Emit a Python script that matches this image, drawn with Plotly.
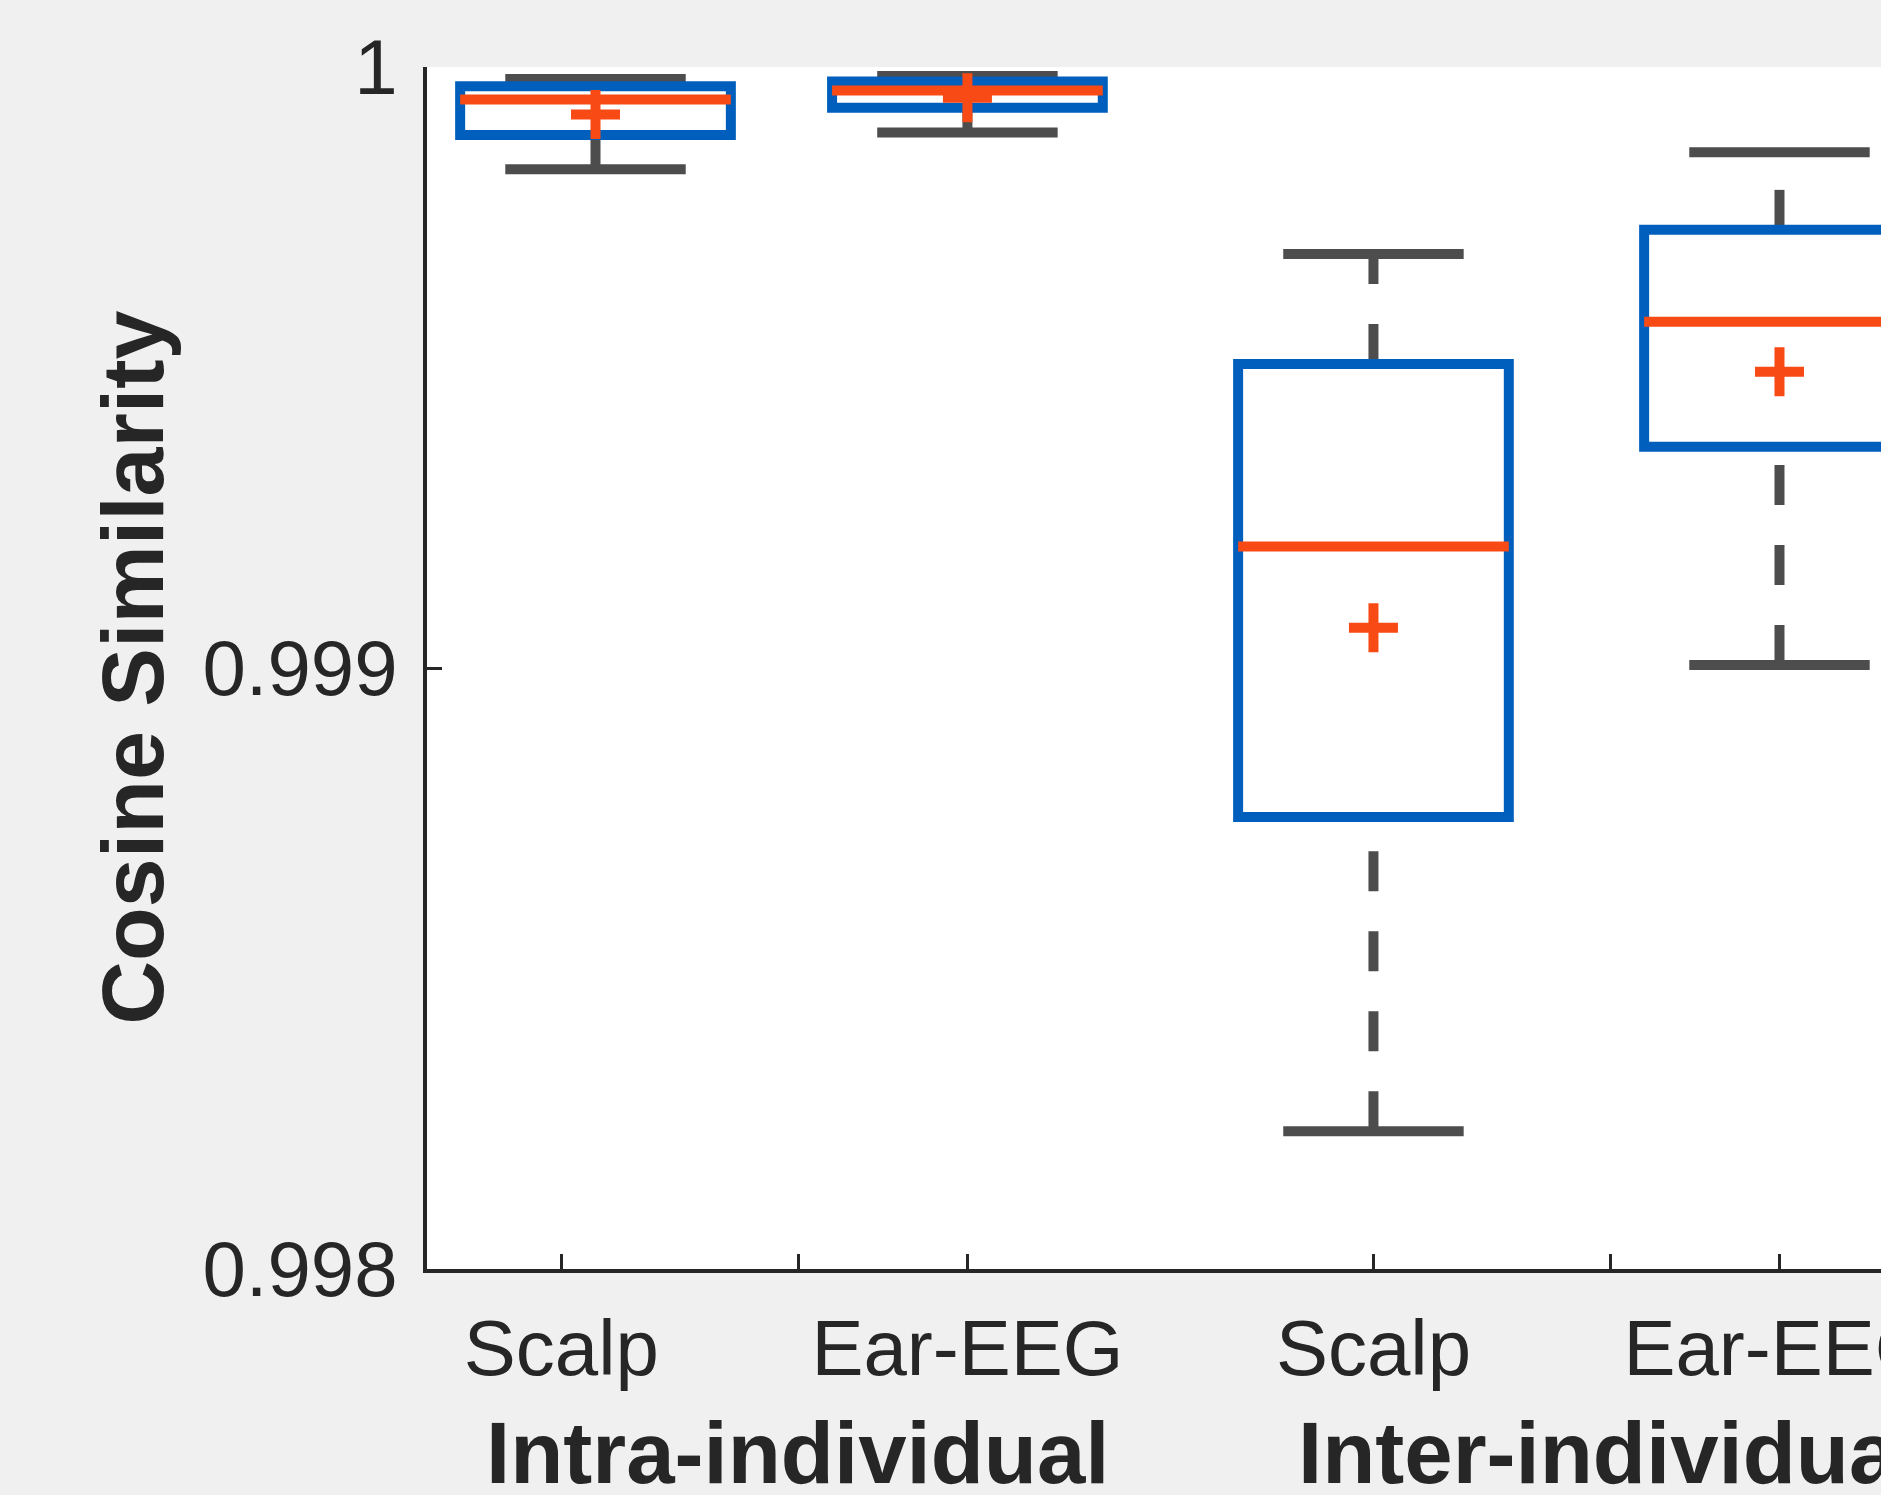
import plotly.graph_objects as go

# ---------------- data ----------------
categories = ["Scalp", "Ear-EEG", "Scalp", "Ear-EEG"]
group_labels = ["Intra-individual", "Inter-individual"]
positions = [1.084, 2, 3, 4]
upper_fence = [0.999980, 0.999985, 0.999689, 0.999858]
q3 = [0.999968, 0.999976, 0.999506, 0.999729]
median = [0.999946, 0.999961, 0.999202, 0.999576]
mean = [0.999921, 0.999949, 0.999067, 0.999493]
q1 = [0.999887, 0.999932, 0.998752, 0.999368]
lower_fence = [0.999830, 0.999891, 0.998229, 0.999005]

x_ticks = [1, 1.583, 2, 3, 3.583, 4]
x_tick_text = ["Scalp", "", "Ear-EEG", "Scalp", "", "Ear-EEG"]
group_tick_pos = [1.583, 3.583]
y_ticks = [0.998, 0.999, 1.0]
y_tick_text = ["0.998", "0.999", "1"]

# ---------------- styles ----------------
BLUE = "#005EBD"
ORANGE = "#F84A14"
GRAY = "#4D4D4D"
TXT = "#262626"
LW = 10
BOX_W = 0.6667
CAP_W = 0.4444
FONT = "Liberation Sans, Arial, Helvetica, sans-serif"

fig = go.Figure()


def line(xs, ys, color, dash=None):
    fig.add_trace(go.Scatter(
        x=xs, y=ys, mode="lines",
        line=dict(color=color, width=LW, dash=dash),
        hoverinfo="skip", showlegend=False,
    ))


for i, p in enumerate(positions):
    l, r = p - BOX_W / 2, p + BOX_W / 2
    cl, cr = p - CAP_W / 2, p + CAP_W / 2
    # whiskers (dashed), drawn upward as in the reference
    line([p, p], [lower_fence[i], q1[i]], GRAY, "40px,40px")
    line([p, p], [q3[i], upper_fence[i]], GRAY, "40px,40px")
    # caps
    line([cl, cr], [upper_fence[i], upper_fence[i]], GRAY)
    line([cl, cr], [lower_fence[i], lower_fence[i]], GRAY)
    # box (one extra edge so every corner gets a join)
    line([l, r, r, l, l, r], [q1[i], q1[i], q3[i], q3[i], q1[i], q1[i]], BLUE)
    # median
    line([l, r], [median[i], median[i]], ORANGE)

# means
fig.add_trace(go.Scatter(
    x=positions, y=mean, mode="markers",
    marker=dict(symbol="cross-thin", size=35,
                line=dict(color=ORANGE, width=LW), color=ORANGE),
    hoverinfo="skip", showlegend=False,
))

for gx, gl in zip(group_tick_pos, group_labels):
    fig.add_annotation(
        x=gx, xref="x", y=-0.153, yref="paper",
        text=gl, showarrow=False, xanchor="center", yanchor="middle",
        font=dict(family=FONT, size=87, color=TXT, weight="bold"),
    )

fig.add_annotation(
    x=-0.2032, xref="paper", y=0.5, yref="paper",
    text="Cosine Similarity", textangle=-90, showarrow=False,
    xanchor="center", yanchor="middle",
    font=dict(family=FONT, size=88, color=TXT, weight="bold"),
)

fig.update_layout(
    width=1881, height=1495,
    margin=dict(l=427, r=0, t=67, b=226, autoexpand=False),
    paper_bgcolor="#f0f0f0", plot_bgcolor="#ffffff",
    font=dict(family=FONT, color=TXT),
    xaxis=dict(
        range=[0.669, 4.25], tickmode="array", tickvals=x_ticks,
        ticktext=x_tick_text, ticks="inside", ticklen=15, tickwidth=3,
        tickcolor=TXT, showline=True, linewidth=3.5, linecolor=TXT,
        showgrid=False, zeroline=False, automargin=False,
        tickfont=dict(family=FONT, size=78, color=TXT),
        ticklabelstandoff=9, ticklabeloverflow="allow",
    ),
    yaxis=dict(
        range=[0.998, 1.0], tickmode="array", tickvals=y_ticks,
        ticktext=y_tick_text, ticks="inside", ticklen=15, tickwidth=3,
        tickcolor=TXT, showline=True, linewidth=3.5, linecolor=TXT,
        showgrid=False, zeroline=False, automargin=False,
        tickfont=dict(family=FONT, size=78, color=TXT),
        ticklabelstandoff=10, ticklabeloverflow="allow",
    ),
)

fig.write_html("out.html", config={"displayModeBar": False})
